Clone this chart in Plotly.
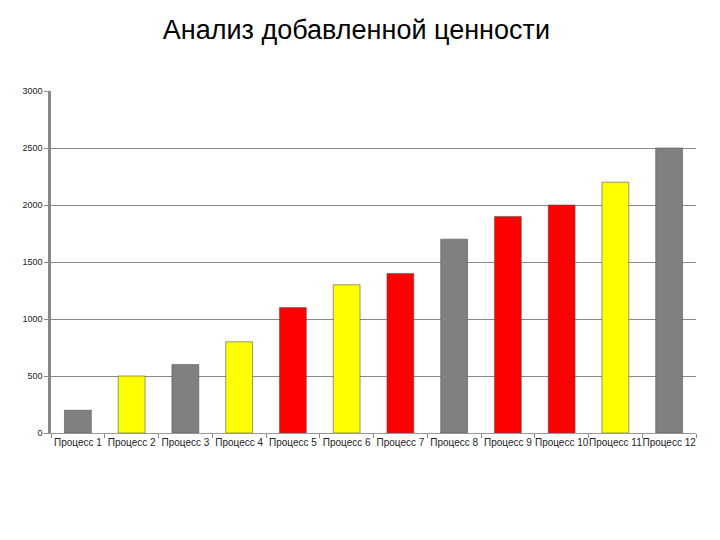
import plotly.graph_objects as go

categories = ["Процесс 1", "Процесс 2", "Процесс 3", "Процесс 4", "Процесс 5", "Процесс 6",
              "Процесс 7", "Процесс 8", "Процесс 9", "Процесс 10", "Процесс 11", "Процесс 12"]
values = [200, 500, 600, 800, 1100, 1300, 1400, 1700, 1900, 2000, 2200, 2500]
colors = ["#808080", "#FFFF00", "#808080", "#FFFF00", "#FF0000", "#FFFF00",
          "#FF0000", "#808080", "#FF0000", "#FF0000", "#FFFF00", "#808080"]
y_ticks = [0, 500, 1000, 1500, 2000, 2500, 3000]

fig = go.Figure(go.Bar(
    x=categories, y=values,
    marker=dict(color=colors, line=dict(color="#555555", width=0.6)),
    width=0.5,
))

fig.update_layout(
    width=720, height=540,
    margin=dict(l=51, r=24, t=91, b=107, autoexpand=False),
    paper_bgcolor="white", plot_bgcolor="white",
    showlegend=False,
    title=dict(text="Анализ добавленной ценности", x=0.495, xanchor="center",
               y=0.945, yanchor="middle",
               font=dict(family="Liberation Sans, Arial", size=27, color="black")),
    font=dict(family="Liberation Sans, Arial", size=9, color="#222222"),
)
fig.update_xaxes(
    type="category", tickson="boundaries", ticks="outside", ticklen=4,
    tickcolor="#888888", showline=True, linecolor="#999999", linewidth=1,
    showgrid=False, tickfont=dict(size=10), tickangle=0, automargin=False,
)
fig.update_yaxes(
    range=[0, 3000], tickvals=y_ticks, ticks="outside", ticklen=4, tickcolor="#888888",
    showline=True, linecolor="#888888", linewidth=2.5,
    showgrid=True, gridcolor="#888888", gridwidth=1.2, zeroline=False,
    tickfont=dict(size=9), automargin=False,
)

fig.write_html("out.html")
